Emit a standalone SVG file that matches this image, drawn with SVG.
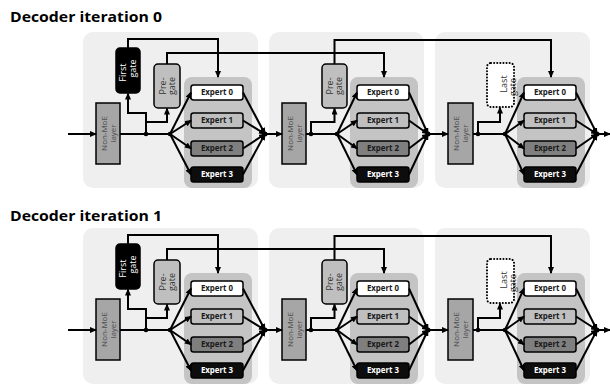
<svg xmlns="http://www.w3.org/2000/svg" width="610" height="388" viewBox="0 0 610 388">
<style>
.title{font-family:"Open Sans","Liberation Sans",sans-serif;font-weight:bold;font-size:13.5px;fill:#000}
.panel{fill:#efefef}
.epanel{fill:#c4c4c4}
.box{stroke:#000;stroke-width:1.5}
.e0{fill:#fff}.e1{fill:#bfbfbf}.e2{fill:#7f7f7f}.e3{fill:#0d0d0d}
.et{font-family:"Open Sans","Liberation Sans",sans-serif;font-weight:bold;font-size:7.9px;text-anchor:middle;fill:#1a1a1a}
.et3{fill:#fff}
.nm{fill:#a6a6a6}
.pg{fill:#bfbfbf}
.fg{fill:#000}
.lg{fill:#fff;stroke:#000;stroke-width:2;stroke-dasharray:0.1 3;stroke-linecap:round}
.vt{font-family:"Open Sans","Liberation Sans",sans-serif;font-size:9px;text-anchor:middle;fill:#333}
.vtn{font-family:"Open Sans","Liberation Sans",sans-serif;font-size:8px;text-anchor:middle;fill:#4d4d4d}
.vtw{fill:#fff}
.c{fill:none;stroke:#000;stroke-width:2}
.a{marker-end:url(#arr)}
.dot{fill:#000}
</style>
<defs>
<marker id="arr" markerUnits="userSpaceOnUse" markerWidth="7" markerHeight="6" refX="6" refY="3" orient="auto">
<path d="M0,0 L7,3 L0,6 z" fill="#000"/>
</marker>
</defs>

<!-- ===== Iteration 0 ===== -->
<g id="iter0">
<g id="i0-title"><text class="title" x="10" y="22" textLength="152" lengthAdjust="spacingAndGlyphs">Decoder iteration 0</text></g>

<g id="i0-layer1-panel"><rect class="panel" x="83" y="32" width="175" height="156" rx="10"/></g>
<g id="i0-layer2-panel"><rect class="panel" x="269" y="32" width="155" height="156" rx="10"/></g>
<g id="i0-layer3-panel"><rect class="panel" x="435" y="32" width="155" height="156" rx="10"/></g>

<g id="i0-moe1"><rect class="epanel" x="184" y="77" width="68" height="111" rx="8"/></g>
<g id="i0-moe2"><rect class="epanel" x="350" y="77" width="68" height="111" rx="8"/></g>
<g id="i0-moe3"><rect class="epanel" x="517" y="77" width="68" height="111" rx="8"/></g>

<g id="i0-nonmoe1"><rect class="box nm" x="96" y="103" width="24" height="61"/>
<g transform="translate(108,133.5) rotate(-90)"><text class="vtn" x="0" y="-1.5">Non-MoE</text><text class="vtn" x="0" y="7.5">layer</text></g></g>
<g id="i0-nonmoe2"><rect class="box nm" x="282" y="103" width="24" height="61"/>
<g transform="translate(294,133.5) rotate(-90)"><text class="vtn" x="0" y="-1.5">Non-MoE</text><text class="vtn" x="0" y="7.5">layer</text></g></g>
<g id="i0-nonmoe3"><rect class="box nm" x="448" y="103" width="25" height="61"/>
<g transform="translate(460.5,133.5) rotate(-90)"><text class="vtn" x="0" y="-1.5">Non-MoE</text><text class="vtn" x="0" y="7.5">layer</text></g></g>

<g id="i0-firstgate"><rect class="box fg" x="116" y="48" width="24" height="45" rx="4"/>
<g transform="translate(128,70.5) rotate(-90)"><text class="vt vtw" x="-2" y="-2.5">First</text><text class="vt vtw" x="2" y="7.5">gate</text></g></g>
<g id="i0-pregate1"><rect class="box pg" x="154" y="64" width="26" height="44" rx="4"/>
<g transform="translate(167,86) rotate(-90)"><text class="vt" x="0" y="-1.5">Pre-</text><text class="vt" x="0" y="7.5">gate</text></g></g>
<g id="i0-pregate2"><rect class="box pg" x="322" y="64" width="25" height="44" rx="4"/>
<g transform="translate(334.5,86) rotate(-90)"><text class="vt" x="0" y="-1.5">Pre-</text><text class="vt" x="0" y="7.5">gate</text></g></g>
<g id="i0-lastgate"><rect class="lg" x="487" y="63" width="27" height="44" rx="4"/>
<g transform="translate(504,85) rotate(-90)"><text class="vt" x="1" y="3">Last</text><text class="vt" x="-2" y="11.5">gate</text></g></g>

<g id="i0-m1-e0"><rect class="box e0" x="191" y="85" width="52" height="15" rx="2.5"/><text class="et" x="217" y="95.3">Expert 0</text></g>
<g id="i0-m1-e1"><rect class="box e1" x="191" y="113" width="52" height="15" rx="2.5"/><text class="et" x="217" y="123.3">Expert 1</text></g>
<g id="i0-m1-e2"><rect class="box e2" x="191" y="141" width="52" height="15" rx="2.5"/><text class="et" x="217" y="151.3">Expert 2</text></g>
<g id="i0-m1-e3"><rect class="box e3" x="191" y="167" width="52" height="15" rx="2.5"/><text class="et et3" x="217" y="177.3">Expert 3</text></g>

<g id="i0-m2-e0"><rect class="box e0" x="357" y="85" width="52" height="15" rx="2.5"/><text class="et" x="383" y="95.3">Expert 0</text></g>
<g id="i0-m2-e1"><rect class="box e1" x="357" y="113" width="52" height="15" rx="2.5"/><text class="et" x="383" y="123.3">Expert 1</text></g>
<g id="i0-m2-e2"><rect class="box e2" x="357" y="141" width="52" height="15" rx="2.5"/><text class="et" x="383" y="151.3">Expert 2</text></g>
<g id="i0-m2-e3"><rect class="box e3" x="357" y="167" width="52" height="15" rx="2.5"/><text class="et et3" x="383" y="177.3">Expert 3</text></g>

<g id="i0-m3-e0"><rect class="box e0" x="524" y="85" width="52" height="15" rx="2.5"/><text class="et" x="550" y="95.3">Expert 0</text></g>
<g id="i0-m3-e1"><rect class="box e1" x="524" y="113" width="52" height="15" rx="2.5"/><text class="et" x="550" y="123.3">Expert 1</text></g>
<g id="i0-m3-e2"><rect class="box e2" x="524" y="141" width="52" height="15" rx="2.5"/><text class="et" x="550" y="151.3">Expert 2</text></g>
<g id="i0-m3-e3"><rect class="box e3" x="524" y="167" width="52" height="15" rx="2.5"/><text class="et et3" x="550" y="177.3">Expert 3</text></g>

<g id="i0-connectors">
<path class="c a" d="M68,134 H96"/>
<path class="c" d="M120,134 H170"/>
<path class="c a" d="M146,134 V113 H128 V93.5"/>
<path class="c a" d="M146,122 H167 V108.5"/>
<path class="c a" d="M170,134 L191,92.5"/>
<path class="c a" d="M170,134 L191,120.5"/>
<path class="c a" d="M170,134 L191,148.5"/>
<path class="c a" d="M170,134 L191,174.5"/>
<path class="c a" d="M243,92.5 L265,134"/>
<path class="c a" d="M243,120.5 L265,134"/>
<path class="c a" d="M243,148.5 L265,134"/>
<path class="c a" d="M243,174.5 L265,134"/>
<path class="c a" d="M265,134 H282"/>
<path class="c a" d="M128,48 V39 H218 V77"/>
<path class="c a" d="M167,64 V53 H384 V77"/>

<path class="c" d="M306,134 H337"/>
<path class="c a" d="M311,134 V122 H334.5 V108.5"/>
<path class="c a" d="M337,134 L357,92.5"/>
<path class="c a" d="M337,134 L357,120.5"/>
<path class="c a" d="M337,134 L357,148.5"/>
<path class="c a" d="M337,134 L357,174.5"/>
<path class="c a" d="M409,92.5 L428,134"/>
<path class="c a" d="M409,120.5 L428,134"/>
<path class="c a" d="M409,148.5 L428,134"/>
<path class="c a" d="M409,174.5 L428,134"/>
<path class="c a" d="M428,134 H448"/>
<path class="c a" d="M334.5,64 V40 H551 V77"/>

<path class="c" d="M473,134 H505"/>
<path class="c a" d="M478,134 V122 H500 V107.5"/>
<path class="c a" d="M505,134 L524,92.5"/>
<path class="c a" d="M505,134 L524,120.5"/>
<path class="c a" d="M505,134 L524,148.5"/>
<path class="c a" d="M505,134 L524,174.5"/>
<path class="c a" d="M576,92.5 L597,134"/>
<path class="c a" d="M576,120.5 L597,134"/>
<path class="c a" d="M576,148.5 L597,134"/>
<path class="c a" d="M576,174.5 L597,134"/>
<path class="c a" d="M597,134 H610"/>

<circle class="dot" cx="146" cy="134" r="2.3"/>
<circle class="dot" cx="170" cy="134" r="2.3"/>
<circle class="dot" cx="265" cy="134" r="2.5"/>
<circle class="dot" cx="311" cy="134" r="2.3"/>
<circle class="dot" cx="337" cy="134" r="2.3"/>
<circle class="dot" cx="428" cy="134" r="2.5"/>
<circle class="dot" cx="478" cy="134" r="2.3"/>
<circle class="dot" cx="505" cy="134" r="2.3"/>
<circle class="dot" cx="597" cy="134" r="2.5"/>
</g>
</g>

<!-- ===== Iteration 1 ===== -->
<g id="iter1">
<g id="i1-title"><text class="title" x="10" y="221" textLength="152" lengthAdjust="spacingAndGlyphs">Decoder iteration 1</text></g>
<g transform="translate(0,196)">
<g id="i1-layer1-panel"><rect class="panel" x="83" y="32" width="175" height="156" rx="10"/></g>
<g id="i1-layer2-panel"><rect class="panel" x="269" y="32" width="155" height="156" rx="10"/></g>
<g id="i1-layer3-panel"><rect class="panel" x="435" y="32" width="155" height="156" rx="10"/></g>

<g id="i1-moe1"><rect class="epanel" x="184" y="77" width="68" height="111" rx="8"/></g>
<g id="i1-moe2"><rect class="epanel" x="350" y="77" width="68" height="111" rx="8"/></g>
<g id="i1-moe3"><rect class="epanel" x="517" y="77" width="68" height="111" rx="8"/></g>

<g id="i1-nonmoe1"><rect class="box nm" x="96" y="103" width="24" height="61"/>
<g transform="translate(108,133.5) rotate(-90)"><text class="vtn" x="0" y="-1.5">Non-MoE</text><text class="vtn" x="0" y="7.5">layer</text></g></g>
<g id="i1-nonmoe2"><rect class="box nm" x="282" y="103" width="24" height="61"/>
<g transform="translate(294,133.5) rotate(-90)"><text class="vtn" x="0" y="-1.5">Non-MoE</text><text class="vtn" x="0" y="7.5">layer</text></g></g>
<g id="i1-nonmoe3"><rect class="box nm" x="448" y="103" width="25" height="61"/>
<g transform="translate(460.5,133.5) rotate(-90)"><text class="vtn" x="0" y="-1.5">Non-MoE</text><text class="vtn" x="0" y="7.5">layer</text></g></g>

<g id="i1-firstgate"><rect class="box fg" x="116" y="48" width="24" height="45" rx="4"/>
<g transform="translate(128,70.5) rotate(-90)"><text class="vt vtw" x="-2" y="-2.5">First</text><text class="vt vtw" x="2" y="7.5">gate</text></g></g>
<g id="i1-pregate1"><rect class="box pg" x="154" y="64" width="26" height="44" rx="4"/>
<g transform="translate(167,86) rotate(-90)"><text class="vt" x="0" y="-1.5">Pre-</text><text class="vt" x="0" y="7.5">gate</text></g></g>
<g id="i1-pregate2"><rect class="box pg" x="322" y="64" width="25" height="44" rx="4"/>
<g transform="translate(334.5,86) rotate(-90)"><text class="vt" x="0" y="-1.5">Pre-</text><text class="vt" x="0" y="7.5">gate</text></g></g>
<g id="i1-lastgate"><rect class="lg" x="487" y="63" width="27" height="44" rx="4"/>
<g transform="translate(504,85) rotate(-90)"><text class="vt" x="1" y="3">Last</text><text class="vt" x="-2" y="11.5">gate</text></g></g>

<g id="i1-m1-e0"><rect class="box e0" x="191" y="85" width="52" height="15" rx="2.5"/><text class="et" x="217" y="95.3">Expert 0</text></g>
<g id="i1-m1-e1"><rect class="box e1" x="191" y="113" width="52" height="15" rx="2.5"/><text class="et" x="217" y="123.3">Expert 1</text></g>
<g id="i1-m1-e2"><rect class="box e2" x="191" y="141" width="52" height="15" rx="2.5"/><text class="et" x="217" y="151.3">Expert 2</text></g>
<g id="i1-m1-e3"><rect class="box e3" x="191" y="167" width="52" height="15" rx="2.5"/><text class="et et3" x="217" y="177.3">Expert 3</text></g>

<g id="i1-m2-e0"><rect class="box e0" x="357" y="85" width="52" height="15" rx="2.5"/><text class="et" x="383" y="95.3">Expert 0</text></g>
<g id="i1-m2-e1"><rect class="box e1" x="357" y="113" width="52" height="15" rx="2.5"/><text class="et" x="383" y="123.3">Expert 1</text></g>
<g id="i1-m2-e2"><rect class="box e2" x="357" y="141" width="52" height="15" rx="2.5"/><text class="et" x="383" y="151.3">Expert 2</text></g>
<g id="i1-m2-e3"><rect class="box e3" x="357" y="167" width="52" height="15" rx="2.5"/><text class="et et3" x="383" y="177.3">Expert 3</text></g>

<g id="i1-m3-e0"><rect class="box e0" x="524" y="85" width="52" height="15" rx="2.5"/><text class="et" x="550" y="95.3">Expert 0</text></g>
<g id="i1-m3-e1"><rect class="box e1" x="524" y="113" width="52" height="15" rx="2.5"/><text class="et" x="550" y="123.3">Expert 1</text></g>
<g id="i1-m3-e2"><rect class="box e2" x="524" y="141" width="52" height="15" rx="2.5"/><text class="et" x="550" y="151.3">Expert 2</text></g>
<g id="i1-m3-e3"><rect class="box e3" x="524" y="167" width="52" height="15" rx="2.5"/><text class="et et3" x="550" y="177.3">Expert 3</text></g>

<g id="i1-connectors">
<path class="c a" d="M68,134 H96"/>
<path class="c" d="M120,134 H170"/>
<path class="c a" d="M146,134 V113 H128 V93.5"/>
<path class="c a" d="M146,122 H167 V108.5"/>
<path class="c a" d="M170,134 L191,92.5"/>
<path class="c a" d="M170,134 L191,120.5"/>
<path class="c a" d="M170,134 L191,148.5"/>
<path class="c a" d="M170,134 L191,174.5"/>
<path class="c a" d="M243,92.5 L265,134"/>
<path class="c a" d="M243,120.5 L265,134"/>
<path class="c a" d="M243,148.5 L265,134"/>
<path class="c a" d="M243,174.5 L265,134"/>
<path class="c a" d="M265,134 H282"/>
<path class="c a" d="M128,48 V39 H218 V77"/>
<path class="c a" d="M167,64 V53 H384 V77"/>

<path class="c" d="M306,134 H337"/>
<path class="c a" d="M311,134 V122 H334.5 V108.5"/>
<path class="c a" d="M337,134 L357,92.5"/>
<path class="c a" d="M337,134 L357,120.5"/>
<path class="c a" d="M337,134 L357,148.5"/>
<path class="c a" d="M337,134 L357,174.5"/>
<path class="c a" d="M409,92.5 L428,134"/>
<path class="c a" d="M409,120.5 L428,134"/>
<path class="c a" d="M409,148.5 L428,134"/>
<path class="c a" d="M409,174.5 L428,134"/>
<path class="c a" d="M428,134 H448"/>
<path class="c a" d="M334.5,64 V40 H551 V77"/>

<path class="c" d="M473,134 H505"/>
<path class="c a" d="M478,134 V122 H500 V107.5"/>
<path class="c a" d="M505,134 L524,92.5"/>
<path class="c a" d="M505,134 L524,120.5"/>
<path class="c a" d="M505,134 L524,148.5"/>
<path class="c a" d="M505,134 L524,174.5"/>
<path class="c a" d="M576,92.5 L597,134"/>
<path class="c a" d="M576,120.5 L597,134"/>
<path class="c a" d="M576,148.5 L597,134"/>
<path class="c a" d="M576,174.5 L597,134"/>
<path class="c a" d="M597,134 H610"/>

<circle class="dot" cx="146" cy="134" r="2.3"/>
<circle class="dot" cx="170" cy="134" r="2.3"/>
<circle class="dot" cx="265" cy="134" r="2.5"/>
<circle class="dot" cx="311" cy="134" r="2.3"/>
<circle class="dot" cx="337" cy="134" r="2.3"/>
<circle class="dot" cx="428" cy="134" r="2.5"/>
<circle class="dot" cx="478" cy="134" r="2.3"/>
<circle class="dot" cx="505" cy="134" r="2.3"/>
<circle class="dot" cx="597" cy="134" r="2.5"/>
</g>
</g>
</g>
</svg>
